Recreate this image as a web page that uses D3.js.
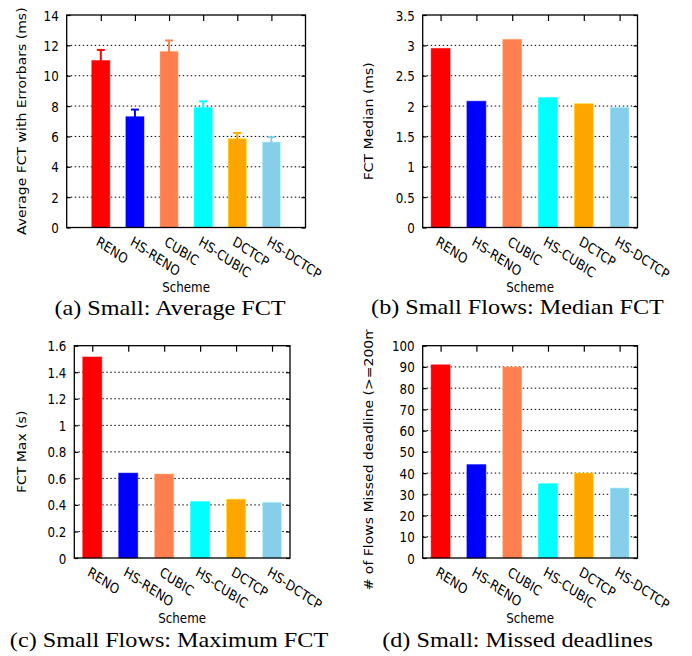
<!DOCTYPE html>
<html>
<head>
<meta charset="utf-8">
<script src="https://cdn.jsdelivr.net/npm/d3@7"></script>
<style>
  body { margin: 0; background: #fff; }
  svg { display: block; }
</style>
</head>
<body>
<div id="chart"></div>
<script>
const categories = ['RENO', 'HS-RENO', 'CUBIC', 'HS-CUBIC', 'DCTCP', 'HS-DCTCP']
const colors = ['#ff0000', '#0000ff', '#ff7f50', '#00ffff', '#ffa500', '#87ceeb']

const avgFct = [11.0, 7.3, 11.6, 7.9, 5.85, 5.63]
const avgFctErr = [0.7, 0.47, 0.72, 0.41, 0.38, 0.32]
const medianFct = [2.95, 2.08, 3.1, 2.14, 2.04, 1.98]
const maxFct = [1.515, 0.64, 0.633, 0.425, 0.443, 0.42]
const missedDeadlines = [91, 44, 90, 35, 40, 33]

const ticksAvg = [0, 2, 4, 6, 8, 10, 12, 14]
const ticksMedian = [0, 0.5, 1, 1.5, 2, 2.5, 3, 3.5]
const ticksMax = [0, 0.2, 0.4, 0.6, 0.8, 1, 1.2, 1.4, 1.6]
const ticksMissed = [0, 10, 20, 30, 40, 50, 60, 70, 80, 90, 100]

const FONT = 'DejaVu Sans, Verdana, sans-serif'
const SQUASH = 0.85 // the plots look squeezed sideways in the source

const svg = d3.select('#chart').append('svg')
  .attr('width', 692)
  .attr('height', 656)
const defs = svg.append('defs')

function panel(p) {
  const g = svg.append('g')
  if (p.clip) {
    defs.append('clipPath').attr('id', p.id + '-clip')
      .append('rect')
      .attr('x', p.clip[0]).attr('y', p.clip[1])
      .attr('width', p.clip[2]).attr('height', p.clip[3])
    g.attr('clip-path', `url(#${p.id}-clip)`)
  }

  const idx = categories.map((c, i) => i)
  const x = d3.scaleLinear().domain(p.xDomain).range([p.left, p.right])
  const y = d3.scaleLinear().domain([0, p.ticks[p.ticks.length - 1]]).range([p.bottom, p.top])
  const yMax = y.domain()[1]

  // dotted grid
  g.append('g')
    .selectAll('line')
    .data(p.ticks.filter(t => t > 0 && t < yMax))
    .join('line')
    .attr('x1', p.left)
    .attr('x2', p.right)
    .attr('y1', d => y(d))
    .attr('y2', d => y(d))
    .attr('stroke', '#000')
    .attr('stroke-width', 1)
    .attr('stroke-dasharray', '1.5,2.5')

  // left axis, ticks inside
  g.append('g')
    .attr('transform', `translate(${p.left},0)`)
    .call(d3.axisLeft(y).tickValues(p.ticks).tickSize(-4).tickPadding(0).tickFormat(d3.format('~g')))
    .attr('font-size', 14)
    .attr('font-family', FONT)
    .call(a => {
      a.select('.domain').remove()
      a.selectAll('.tick line').attr('stroke-width', 1.2)
      a.selectAll('.tick text')
        .attr('x', null)
        .attr('dy', '0.36em')
        .attr('fill', '#000')
        .attr('transform', `translate(-8,0) scale(${SQUASH},1)`)
    })

  // mirrored right ticks
  g.append('g')
    .attr('transform', `translate(${p.right},0)`)
    .call(d3.axisRight(y).tickValues(p.ticks).tickSize(-4).tickFormat(''))
    .call(a => {
      a.select('.domain').remove()
      a.selectAll('.tick line').attr('stroke-width', 1.2)
    })

  // top ticks
  g.append('g')
    .attr('transform', `translate(0,${p.top})`)
    .call(d3.axisTop(x).tickValues(idx).tickSize(-6).tickFormat(''))
    .call(a => {
      a.select('.domain').remove()
      a.selectAll('.tick line').attr('stroke-width', 1.2)
    })

  // bottom ticks + rotated category labels
  g.append('g')
    .attr('transform', `translate(0,${p.bottom})`)
    .call(d3.axisBottom(x).tickValues(idx).tickSize(-6).tickPadding(0).tickFormat(i => categories[i]))
    .attr('font-size', 14)
    .attr('font-family', FONT)
    .call(a => {
      a.select('.domain').remove()
      a.selectAll('.tick text')
        .attr('y', null)
        .attr('dy', null)
        .attr('fill', '#000')
        .attr('text-anchor', 'start')
        .attr('transform', `translate(-6,17) scale(${SQUASH},1) rotate(30)`)
    })

  // bars
  const half = 0.265
  g.append('g')
    .selectAll('rect')
    .data(p.values)
    .join('rect')
    .attr('x', (d, i) => x(i - half))
    .attr('width', (d, i) => x(i + half) - x(i - half))
    .attr('y', d => y(d))
    .attr('height', d => y(0) - y(d))
    .attr('fill', (d, i) => colors[i])
    .attr('stroke', (d, i) => d3.color(colors[i]).brighter(0.9))
    .attr('stroke-opacity', 0.5)
    .attr('stroke-width', 1)

  // error bars
  if (p.errors) {
    const eb = g.append('g')
      .selectAll('g')
      .data(p.values)
      .join('g')
      .attr('stroke', (d, i) => colors[i])
      .attr('stroke-width', 2)
    eb.append('line')
      .attr('x1', (d, i) => x(i))
      .attr('x2', (d, i) => x(i))
      .attr('y1', (d, i) => y(d - p.errors[i]))
      .attr('y2', (d, i) => y(d + p.errors[i]))
    eb.append('line')
      .attr('x1', (d, i) => x(i) - 4)
      .attr('x2', (d, i) => x(i) + 4)
      .attr('y1', (d, i) => y(d + p.errors[i]))
      .attr('y2', (d, i) => y(d + p.errors[i]))
  }

  // frame
  g.append('rect')
    .attr('x', p.left)
    .attr('y', p.top)
    .attr('width', p.right - p.left)
    .attr('height', p.bottom - p.top)
    .attr('fill', 'none')
    .attr('stroke', '#000')
    .attr('stroke-width', 1.3)

  // axis titles
  g.append('text')
    .attr('transform', `translate(${p.ylabelX},${(p.top + p.bottom) / 2}) scale(${SQUASH},1) rotate(-90)`)
    .attr('text-anchor', 'middle')
    .attr('dy', '0.35em')
    .attr('font-size', 14)
    .attr('font-family', FONT)
    .text(p.ylabel)

  g.append('text')
    .attr('transform', `translate(${(p.left + p.right) / 2},${p.xlabelY}) scale(${SQUASH},1)`)
    .attr('text-anchor', 'middle')
    .attr('font-size', 14)
    .attr('font-family', FONT)
    .text('Scheme')

  // caption
  g.append('text')
    .attr('transform', `translate(${p.captionX},${p.captionY}) scale(1.18,1)`)
    .attr('text-anchor', 'middle')
    .attr('font-size', 20.5)
    .attr('font-family', 'Liberation Serif, Times New Roman, serif')
    .text(p.caption)
}

panel({
  id: 'a', values: avgFct, errors: avgFctErr, ticks: ticksAvg,
  left: 66.7, right: 305.5, top: 15, bottom: 227.5, xDomain: [-1, 6],
  ylabel: 'Average FCT with Errorbars (ms)', ylabelX: 21.7, xlabelY: 292,
  caption: '(a) Small: Average FCT', captionX: 170, captionY: 315
})

panel({
  id: 'b', values: medianFct, ticks: ticksMedian,
  left: 422.7, right: 637.5, top: 15, bottom: 227.5, xDomain: [-0.5, 5.5],
  ylabel: 'FCT Median (ms)', ylabelX: 369.3, xlabelY: 292,
  caption: '(b) Small Flows: Median FCT', captionX: 517.5, captionY: 314
})

panel({
  id: 'c', values: maxFct, ticks: ticksMax,
  left: 74.3, right: 290, top: 345.7, bottom: 558, xDomain: [-0.5, 5.5],
  ylabel: 'FCT Max (s)', ylabelX: 21.7, xlabelY: 623,
  caption: '(c) Small Flows: Maximum FCT', captionX: 169, captionY: 646.5
})

panel({
  id: 'd', values: missedDeadlines, ticks: ticksMissed,
  left: 422.7, right: 637.5, top: 345.7, bottom: 558, xDomain: [-0.5, 5.5],
  ylabel: '# of Flows Missed deadline (>=200ms)', ylabelX: 369.3, xlabelY: 623,
  caption: '(d) Small: Missed deadlines', captionX: 517.5, captionY: 646.5,
  clip: [346, 329.5, 346, 327]
})
</script>
</body>
</html>
